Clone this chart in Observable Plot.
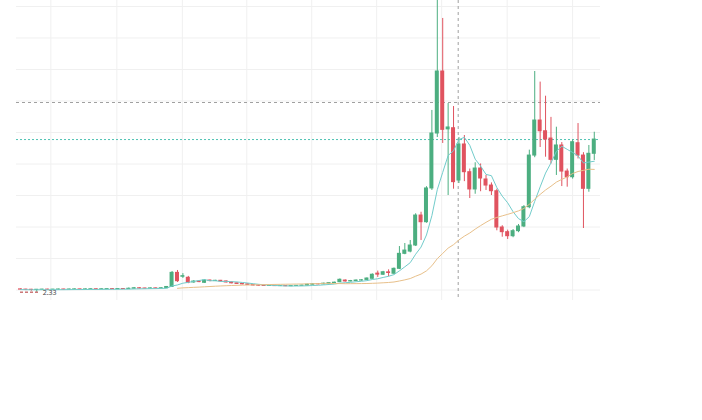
<!DOCTYPE html>
<html><head><meta charset="utf-8">
<script src="https://cdn.jsdelivr.net/npm/d3@7"></script>
<script src="https://cdn.jsdelivr.net/npm/@observablehq/plot@0.6"></script>
<style>html,body{margin:0;padding:0;background:#fff;font-family:"Noto Sans",sans-serif}</style>
</head><body><div id="chart"></div>
<script>
const opens  = [2.55,2.53,2.52,2.50,2.52,2.53,2.52,2.53,2.54,2.53,2.54,2.55,2.54,2.55,2.56,2.55,2.56,2.57,2.56,2.58,
  2.57,2.60,2.64,2.62,2.61,2.63,2.62,2.64,2.74,3.86,3.55,3.47,3.10,3.17,3.07,3.25,3.21,3.23,3.18,3.10,
  3.03,2.98,2.95,2.90,2.86,2.84,2.82,2.83,2.81,2.82,2.80,2.82,2.83,2.85,2.92,2.97,2.95,3.00,3.05,3.12,
  3.25,3.18,3.21,3.25,3.30,3.39,3.80,3.71,3.90,3.79,4.18,5.37,5.55,6.03,8.41,7.88,10.56,14.92,19.84,15.25,
  15.34,11.19,14.05,11.85,10.48,12.14,11.27,10.79,10.34,7.46,7.09,6.77,7.17,7.54,9.07,13.17,15.95,15.10,14.52,12.83,
  13.97,11.90,11.45,14.15,13.17,10.53,13.31];
const highs  = [2.58,2.56,2.55,2.54,2.56,2.56,2.55,2.57,2.56,2.57,2.58,2.57,2.58,2.59,2.58,2.59,2.60,2.60,2.61,2.61,
  2.66,2.70,2.68,2.65,2.66,2.66,2.68,2.78,3.97,4.05,3.80,3.58,3.24,3.22,3.30,3.29,3.27,3.26,3.21,3.13,
  3.06,3.01,2.98,2.93,2.89,2.87,2.86,2.86,2.85,2.85,2.85,2.86,2.89,2.96,3.01,3.00,3.04,3.09,3.12,3.38,
  3.30,3.26,3.30,3.32,3.46,3.78,4.00,3.98,4.10,4.25,5.95,6.19,6.43,8.55,8.67,10.70,16.75,26.50,24.05,17.30,
  17.06,14.60,14.76,12.10,12.60,12.50,11.60,11.00,10.50,7.60,7.25,7.30,7.70,9.20,13.60,19.84,19.00,17.88,16.20,15.42,
  14.20,12.10,14.40,15.71,13.40,13.97,15.02];
const lows   = [2.48,2.45,2.40,2.33,2.48,2.49,2.50,2.50,2.51,2.51,2.52,2.52,2.52,2.53,2.53,2.53,2.54,2.54,2.54,2.55,
  2.55,2.58,2.59,2.58,2.59,2.60,2.60,2.62,2.72,3.10,3.42,3.00,3.04,3.08,3.03,3.16,3.17,3.14,3.06,2.99,
  2.95,2.91,2.87,2.83,2.81,2.79,2.79,2.78,2.78,2.77,2.77,2.79,2.80,2.83,2.89,2.91,2.92,2.97,3.01,3.09,
  3.12,3.14,3.17,3.20,3.26,3.35,3.50,3.66,3.55,3.74,4.12,5.30,5.45,5.95,6.43,7.80,10.40,14.60,14.13,10.00,
  10.50,10.95,11.10,9.76,10.10,10.30,10.40,10.00,7.20,6.69,6.51,6.65,7.05,7.45,8.95,13.00,13.81,13.04,12.50,11.59,
  10.71,10.66,11.30,12.90,7.38,10.26,12.78];
const closes = [2.53,2.52,2.50,2.52,2.53,2.52,2.53,2.54,2.53,2.54,2.55,2.54,2.55,2.56,2.55,2.56,2.57,2.56,2.58,2.57,
  2.60,2.64,2.62,2.61,2.63,2.62,2.64,2.74,3.86,3.20,3.60,3.07,3.17,3.13,3.25,3.21,3.23,3.18,3.10,3.03,
  2.98,2.95,2.90,2.86,2.84,2.82,2.83,2.81,2.82,2.80,2.82,2.83,2.85,2.92,2.97,2.95,3.00,3.05,3.08,3.31,
  3.18,3.21,3.25,3.27,3.41,3.71,3.72,3.91,3.85,4.18,5.37,5.63,6.03,8.41,7.88,10.56,14.92,19.84,15.21,15.40,
  11.06,14.05,11.85,10.48,12.14,11.35,10.79,10.34,7.46,7.09,6.77,7.17,7.54,9.07,13.17,15.95,15.10,14.44,12.83,13.97,
  11.90,11.45,14.23,13.17,10.53,13.31,14.44];

const xGridTicks = [5.6, 17.8, 29.9, 41.8, 53.8, 65.8, 77.8, 89.9, 102];
const yGridTicks = [2.5, 5, 7.5, 10, 12.5, 15, 17.5, 20, 22.5, 25];
const lowLabel = 2.33;
const crossX = 80.86;
const crossY = 17.38;
const lastClose = closes[closes.length - 1];

const UP = "#4cae80", DOWN = "#e0535f";
const data = opens.map((o, i) => ({
  i, open: o, high: highs[i], low: lows[i], close: closes[i],
  color: closes[i] >= o ? UP : DOWN
}));

const chart = Plot.plot({
  width: 702, height: 420,
  marginTop: 0, marginBottom: 120, marginLeft: 16, marginRight: 102,
  x: {domain: [-0.74, 107.15], axis: null},
  y: {domain: [1.667, 25.476], axis: null},
  color: {type: "identity"},
  marks: [
    Plot.gridX(xGridTicks, {stroke: "#f0f0f0", strokeOpacity: 1}),
    Plot.gridY(yGridTicks, {stroke: "#f0f0f0", strokeOpacity: 1}),
    Plot.ruleY([lastClose], {stroke: "#4fc3b3", strokeDasharray: "2,2", strokeWidth: 1}),
    Plot.ruleY([crossY], {stroke: "#a0a0a0", strokeDasharray: "3,3", strokeWidth: 1}),
    Plot.ruleX([crossX], {stroke: "#a0a0a0", strokeDasharray: "3,3", strokeWidth: 1}),
    Plot.ruleX(data, {x: "i", y1: "low", y2: "high", stroke: "color", strokeWidth: 1, clip: true}),
    Plot.rect(data, {
      x1: d => d.i - 0.37, x2: d => d.i + 0.37,
      y1: d => Math.min(d.open, d.close), y2: d => Math.max(d.open, d.close),
      fill: "color", insetTop: -0.5, insetBottom: -0.5, clip: true
    }),
    Plot.lineY(data, Plot.windowY({k: 7, anchor: "end"}, {x: "i", y: "close", stroke: "#72cccb", strokeWidth: 1})),
    Plot.lineY(data, Plot.windowY({k: 30, anchor: "end", strict: true}, {x: "i", y: "close", stroke: "#e8c08a", strokeWidth: 1})),
    Plot.ruleY([lowLabel], {x1: 0, x2: 3.6, stroke: "#b03030", strokeDasharray: "3,2", strokeWidth: 1}),
    Plot.text([lowLabel], {x: 4.1, y: d => d, text: d => d.toFixed(2), textAnchor: "start", fontSize: 7, fill: "#444", dy: 1})
  ]
});
document.getElementById("chart").appendChild(chart);
</script>
</body></html>
